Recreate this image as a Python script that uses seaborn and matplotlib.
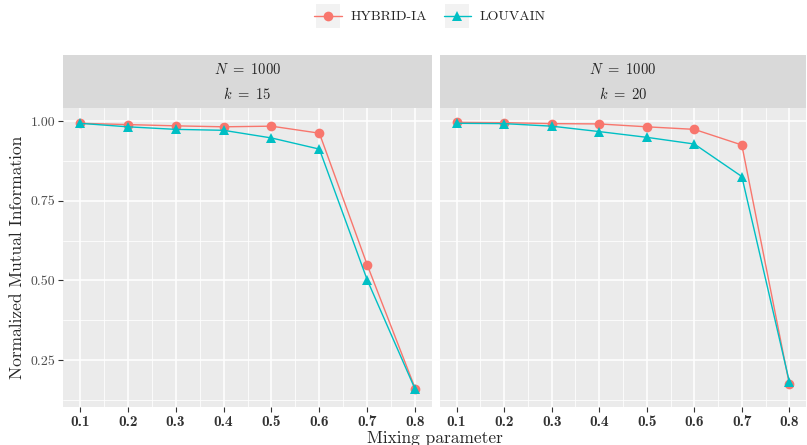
import numpy as np
import pandas as pd
import matplotlib
matplotlib.use("Agg")
import matplotlib.pyplot as plt
from matplotlib.patches import Rectangle
import seaborn as sns

# values
mixing = [0.1, 0.2, 0.3, 0.4, 0.5, 0.6, 0.7, 0.8]
hybrid_k15 = [0.993, 0.989, 0.985, 0.982, 0.984, 0.962, 0.548, 0.161]
louvain_k15 = [0.993, 0.982, 0.974, 0.971, 0.947, 0.912, 0.501, 0.158]
hybrid_k20 = [0.996, 0.995, 0.992, 0.991, 0.982, 0.974, 0.925, 0.174]
louvain_k20 = [0.993, 0.992, 0.984, 0.967, 0.949, 0.928, 0.826, 0.182]
methods = ["HYBRID-IA", "LOUVAIN"]
panels = ["15", "20"]
n_nodes = "1000"

sns.set_theme(style="darkgrid")
plt.rcParams['font.family'] = ['cmr10', 'DejaVu Serif']
plt.rcParams['mathtext.fontset'] = 'cm'
plt.rcParams['axes.formatter.use_mathtext'] = True

#Build a long table for seaborn
rows = []
for k, hyb, lou in [(panels[0], hybrid_k15, louvain_k15), (panels[1], hybrid_k20, louvain_k20)]:
    for x, h, l in zip(mixing, hyb, lou):
        rows.append({"k": k, "mix": x, "nmi": h, "method": methods[0]})
        rows.append({"k": k, "mix": x, "nmi": l, "method": methods[1]})
df = pd.DataFrame(rows)

palette = {methods[0]: "#F8766D", methods[1]: "#00BFC4"}

fig = plt.figure(figsize=(8.07, 4.45), dpi=100)
fig.patch.set_facecolor("white")

W, H = 807, 445
panel_x = [(63, 432), (440, 806)]
bottom_px, top_px, strip_top = 407, 108, 55

axes = []
for i, (x0, x1) in enumerate(panel_x):
    ax = fig.add_axes([x0 / W, 1 - bottom_px / H, (x1 - x0) / W, (bottom_px - top_px) / H])
    axes.append(ax)
    ax.set_facecolor("#EBEBEB")
    sub = df[df["k"] == panels[i]]
    sns.lineplot(data=sub, x="mix", y="nmi", hue="method", style="method",
                 markers=["o", "^"], dashes=False, palette=palette, ax=ax,
                 markersize=7, linewidth=1, markeredgewidth=0, legend=(i == 0))
    ax.set_xlim(0.065, 0.835)
    ax.set_ylim(0.103, 1.041)
    ax.set_xticks(mixing)
    ax.set_xticks(np.arange(0.15, 0.8, 0.1), minor=True)
    ax.set_yticks([0.25, 0.5, 0.75, 1.0])
    ax.set_yticks([0.125, 0.375, 0.625, 0.875], minor=True)
    ax.grid(which="major", color="white", linewidth=1.1)
    ax.grid(which="minor", color="white", linewidth=0.55)
    for s in ax.spines.values():
        s.set_visible(False)
    ax.tick_params(axis="both", which="major", length=3.5, width=0.8, color="#333333",
                   bottom=True, left=(i == 0), pad=2)
    ax.tick_params(axis="both", which="minor", length=0)
    ax.set_xticklabels([f"{v:.1f}" for v in mixing], fontfamily="cmb10", fontsize=11, color="#333333")
    if i == 0:
        ax.set_yticklabels(["0.25", "0.50", "0.75", "1.00"], fontsize=10, color="#4D4D4D")
        ax.set_ylabel("Normalized Mutual Information", fontsize=12.5, labelpad=4)
    else:
        ax.set_yticklabels([])
        ax.set_ylabel("")
    ax.set_xlabel("")

    #strip on top of the panel
    sax = fig.add_axes([x0 / W, 1 - top_px / H, (x1 - x0) / W, (top_px - strip_top) / H])
    sax.set_facecolor("#D9D9D9")
    sax.set_xticks([])
    sax.set_yticks([])
    for s in sax.spines.values():
        s.set_visible(False)
    sax.text(0.5, 0.72, r"$N\ =\ " + n_nodes + "$", ha="center", va="center", fontsize=10.5,
             transform=sax.transAxes)
    sax.text(0.5, 0.27, r"$k\ =\ " + panels[i] + "$", ha="center", va="center", fontsize=10.5,
             transform=sax.transAxes)

handles, labels = axes[0].get_legend_handles_labels()
axes[0].get_legend().remove()
leg = fig.legend(handles, labels, loc="center", bbox_to_anchor=(430 / W, 1 - 17 / H), ncol=2,
                 frameon=False, fontsize=10, handlelength=2.0, columnspacing=1.2, handletextpad=0.6)

fig.text(435 / W, 1 - 438 / H, "Mixing parameter", ha="center", va="center", fontsize=12.5)

#grey key boxes behind the legend handles, ggplot style
fig.canvas.draw()
for line in leg.get_lines():
    bb = line.get_window_extent(fig.canvas.get_renderer())
    cx, cy = (bb.x0 + bb.x1) / 2, (bb.y0 + bb.y1) / 2
    fig.patches.append(Rectangle(((cx - 12) / W, (cy - 12) / H), 24 / W, 24 / H,
                                 transform=fig.transFigure, facecolor="#F2F2F2",
                                 edgecolor="none", zorder=-1))

fig.savefig("out.png", dpi=100, facecolor="white")
